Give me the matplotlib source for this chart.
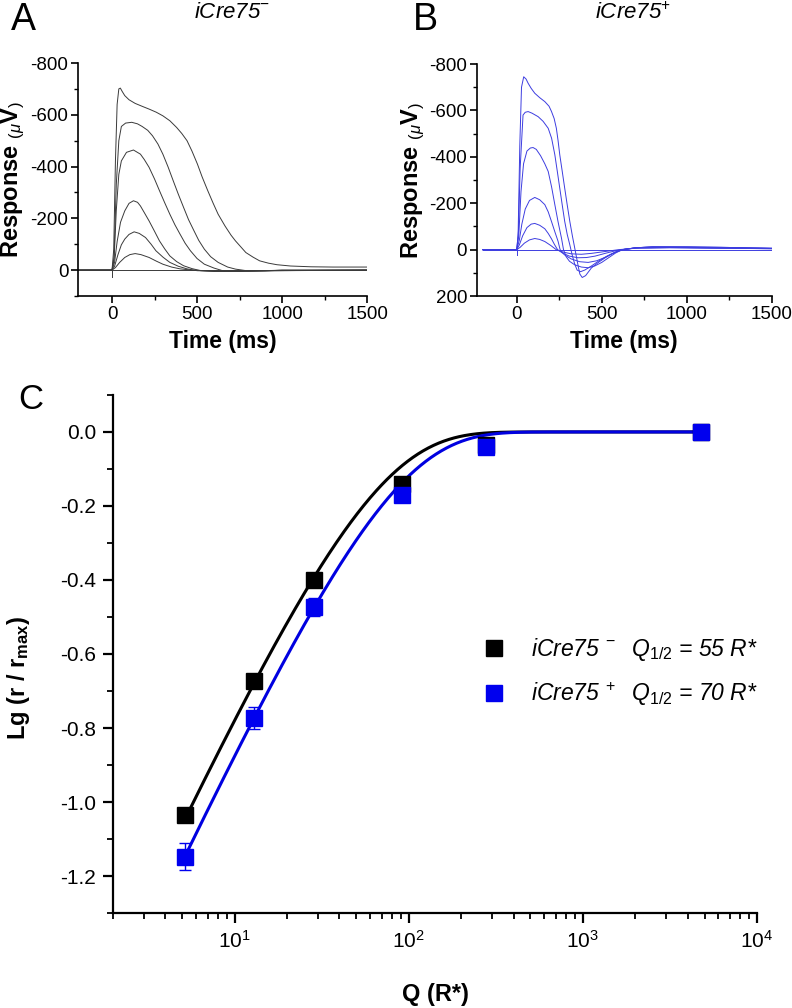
import numpy as np
import matplotlib
matplotlib.use('Agg')
from matplotlib import pyplot as plt
from matplotlib.lines import Line2D
from matplotlib.ticker import MultipleLocator, LogLocator, NullFormatter, FormatStrFormatter

plt.rcParams['font.family'] = ['Liberation Sans', 'DejaVu Sans']
plt.rcParams['mathtext.fontset'] = 'custom'
plt.rcParams['mathtext.rm'] = 'Liberation Sans'
plt.rcParams['mathtext.it'] = 'Liberation Sans:italic'
plt.rcParams['mathtext.bf'] = 'Liberation Sans:bold'
plt.rcParams['axes.unicode_minus'] = False

# ---- panel A : iCre75- traces (time ms, response uV) ----
a_t1 = [-200, 0, 10, 20, 30, 40, 49, 60, 75, 100, 136, 180, 218, 260, 299, 340, 380, 410, 441, 470,
        502, 530, 563, 595, 624, 665, 700, 726, 760, 787, 830, 868, 920, 970, 1050, 1171, 1300, 1500]
a_v1 = [0, 0, -80, -420, -640, -700, -703, -690, -674, -658, -644, -632, -622, -610, -596, -577, -551, -528, -500, -460,
        -410, -360, -307, -258, -216, -170, -135, -113, -88, -68, -50, -36, -27, -21, -16, -13, -12, -12]
a_t2 = [-200, 0, 12, 25, 40, 55, 80, 116, 150, 177, 210, 238, 270, 299, 330, 360, 390, 421, 450, 482,
        510, 543, 580, 624, 680, 726, 800, 900, 1000, 1500]
a_v2 = [0, 0, -50, -330, -500, -555, -568, -571, -565, -555, -540, -519, -487, -448, -398, -345, -293, -242, -195, -152,
        -115, -81, -52, -30, -12, -4, 3, 3, 0, 0]
a_t3 = [-200, 0, 12, 25, 40, 55, 85, 126, 167, 190, 218, 250, 279, 310, 340, 370, 400, 430, 461, 500,
        543, 600, 650, 750, 900, 1500]
a_v3 = [0, 0, -40, -230, -370, -422, -455, -464, -448, -427, -397, -352, -307, -260, -216, -175, -139, -104, -75, -45,
        -23, -8, 2, 5, 2, 0]
a_t4 = [-200, 0, 15, 30, 50, 75, 100, 126, 150, 167, 190, 218, 250, 279, 310, 340, 380, 421, 470, 522,
        600, 700, 850, 1000, 1500]
a_v4 = [0, 0, -30, -110, -185, -229, -258, -268, -262, -248, -222, -190, -150, -113, -82, -55, -33, -17, -6, 2,
        5, 5, 3, 0, 0]
a_t5 = [-200, 0, 15, 35, 55, 75, 100, 130, 160, 197, 230, 258, 300, 340, 390, 441, 500, 600, 750, 1500]
a_v5 = [0, 0, -15, -60, -98, -120, -138, -148, -142, -126, -100, -75, -50, -30, -15, -5, 2, 4, 3, 0]
a_t6 = [-200, 0, 20, 45, 75, 105, 136, 170, 218, 260, 299, 350, 400, 470, 600, 800, 1500]
a_v6 = [0, 0, -10, -30, -49, -60, -64, -60, -49, -35, -23, -12, -5, 0, 3, 2, 0]

# ---- panel B : iCre75+ traces ----
b_t1 = [-200, 0, 8, 18, 28, 41, 55, 67, 85, 106, 135, 165, 190, 204, 220, 233, 243, 253, 268, 282,
        297, 312, 327, 341, 352, 361, 371, 385, 405, 439, 480, 518, 560, 596, 630, 700, 800, 1000, 1200, 1500]
b_v1 = [0, 0, -60, -450, -700, -745, -735, -717, -695, -674, -655, -638, -618, -596, -565, -523, -470, -409, -335, -265,
        -192, -122, -60, -7, 35, 70, 105, 120, 112, 79, 55, 36, 18, 7, 0, -8, -12, -12, -10, -6]
b_t2 = [-200, 0, 10, 20, 37, 50, 67, 90, 126, 155, 185, 205, 224, 238, 253, 268, 282, 297, 312, 325,
        340, 355, 375, 400, 440, 480, 530, 580, 620, 700, 800, 1000, 1200, 1500]
b_v2 = [0, 0, -80, -350, -580, -592, -595, -588, -573, -553, -523, -480, -409, -340, -265, -190, -122, -65, -21, 20,
        60, 88, 95, 88, 70, 50, 28, 10, 0, -8, -12, -12, -10, -6]
b_t3 = [-200, 0, 12, 25, 40, 60, 80, 96, 115, 140, 165, 185, 205, 224, 243, 263, 275, 290, 310, 340,
        380, 420, 460, 500, 540, 580, 620, 700, 800, 1000, 1500]
b_v3 = [0, 0, -60, -250, -370, -425, -438, -440, -432, -405, -370, -337, -270, -194, -120, -50, 0, 30, 50, 65,
        75, 78, 70, 55, 35, 15, 0, -8, -12, -10, -5]
b_t4 = [-200, 0, 15, 30, 50, 75, 106, 135, 165, 185, 204, 225, 243, 255, 280, 320, 370, 420, 470, 520,
        570, 620, 700, 900, 1500]
b_v4 = [0, 0, -40, -110, -175, -212, -225, -215, -194, -163, -122, -75, -36, 0, 22, 40, 52, 55, 48, 33,
        15, 0, -8, -10, -5]
b_t5 = [-200, 0, 15, 35, 60, 85, 106, 135, 165, 185, 204, 222, 240, 270, 310, 360, 410, 460, 520, 580,
        620, 700, 900, 1500]
b_v5 = [0, 0, -20, -60, -95, -110, -113, -105, -90, -70, -47, -22, 0, 15, 28, 35, 34, 28, 16, 5,
        0, -7, -9, -4]
b_t6 = [-200, 0, 20, 45, 75, 106, 135, 165, 200, 232, 270, 320, 380, 440, 520, 600, 700, 900, 1500]
b_v6 = [0, 0, -10, -28, -42, -48, -44, -35, -18, 0, 10, 18, 20, 16, 8, 0, -6, -8, -4]

base_t = [-200, 1500]
base_v = [0, 0]
artifact_v = [0, 25]

# ---- panel C : intensity-response ----
q_flash = [5.2, 12.9, 28.4, 91, 277, 4780]
lg_minus = [-1.035, -0.672, -0.400, -0.142, -0.035, 0.0]
err_minus = [0.015, 0.018, 0.012, 0.01, 0.01, 0.0]
lg_plus = [-1.148, -0.772, -0.473, -0.170, -0.042, 0.0]
err_plus = [0.037, 0.030, 0.025, 0.012, 0.01, 0.0]
q_half = [55, 70]   # fit constants (1/k of saturating exponential)
labels_c = [r'iCre75$^{\ -}$  Q$_{\mathit{1/2}}$ = 55 R*',
            r'iCre75$^{\ +}$  Q$_{\mathit{1/2}}$ = 70 R*']

fig = plt.figure(figsize=(7.92, 10.08), dpi=100)

def trace_axes(rect, xlim, ylim, ylab_x):
    ax = fig.add_axes(rect)
    ax.set_xlim(*xlim)
    ax.set_ylim(*ylim)
    for s in ['top', 'right']:
        ax.spines[s].set_visible(False)
    for s in ['left', 'bottom']:
        ax.spines[s].set_linewidth(1.2)
    ax.xaxis.set_major_locator(MultipleLocator(500))
    ax.xaxis.set_minor_locator(MultipleLocator(250))
    ax.yaxis.set_major_locator(MultipleLocator(200))
    ax.yaxis.set_minor_locator(MultipleLocator(100))
    ax.tick_params(which='major', direction='out', length=5, width=1.2, labelsize=13.5, pad=2)
    ax.tick_params(which='minor', direction='out', length=3, width=1.0)
    ax.set_xlabel('Time (ms)', fontsize=16.5, fontweight='bold', labelpad=5)
    ax.set_ylabel(r'Response $_{(\mu}\mathbf{V}_{)}$', fontsize=17, fontweight='bold')
    ax.yaxis.set_label_coords(ylab_x, 0.5)
    return ax

axA = trace_axes([0.0985, 0.7063, 0.365, 0.2312], (-200, 1500), (100, -800), -0.176)
axA.set_xticks([0, 500, 1000, 1500])
for t, v in [(a_t1, a_v1), (a_t2, a_v2), (a_t3, a_v3), (a_t4, a_v4), (a_t5, a_v5), (a_t6, a_v6)]:
    axA.plot(t, v, color='#3a3a3a', lw=0.7)
axA.plot(base_t, base_v, color='#3a3a3a', lw=0.7)
axA.plot([0, 0], artifact_v, color='#3a3a3a', lw=0.7)

axB = trace_axes([0.602, 0.7063, 0.3725, 0.2302], (-235, 1500), (200, -800), -0.17)
axB.set_xticks([0, 500, 1000, 1500])
for t, v in [(b_t1, b_v1), (b_t2, b_v2), (b_t3, b_v3), (b_t4, b_v4), (b_t5, b_v5), (b_t6, b_v6)]:
    axB.plot(t, v, color='#3d3de0', lw=0.7)
axB.plot(base_t, base_v, color='#3d3de0', lw=0.7)
axB.plot([0, 0], artifact_v, color='#3d3de0', lw=0.7)

fig.text(232 / 792, 1 - 13 / 1008, r'iCre75$^{-}$', fontsize=16, style='italic', ha='center', va='center')
fig.text(633 / 792, 1 - 13 / 1008, r'iCre75$^{+}$', fontsize=16, style='italic', ha='center', va='center')
fig.text(11 / 792, 1 - 20 / 1008, 'A', fontsize=27, ha='left', va='center')
fig.text(413 / 792, 1 - 20 / 1008, 'B', fontsize=27, ha='left', va='center')
fig.text(18 / 792, 1 - 400 / 1008, 'C', fontsize=25, ha='left', va='center')

# panel C
axC = fig.add_axes([0.1427, 0.0942, 0.813, 0.514])
axC.set_xscale('log')
axC.set_xlim(2, 1e4)
axC.set_ylim(-1.3, 0.1)
for s in ['top', 'right']:
    axC.spines[s].set_visible(False)
for s in ['left', 'bottom']:
    axC.spines[s].set_linewidth(1.6)
axC.yaxis.set_major_locator(MultipleLocator(0.2))
axC.yaxis.set_minor_locator(MultipleLocator(0.1))
axC.yaxis.set_major_formatter(FormatStrFormatter('%.1f'))
axC.xaxis.set_major_locator(LogLocator(base=10, numticks=10))
axC.xaxis.set_minor_locator(LogLocator(base=10, subs=np.arange(2, 10), numticks=10))
axC.xaxis.set_minor_formatter(NullFormatter())
axC.tick_params(which='major', direction='out', length=7, width=1.6, labelsize=15, pad=5)
axC.tick_params(which='minor', direction='out', length=4, width=1.3)

q_fit = np.logspace(np.log10(q_flash[0]), np.log10(q_flash[-1]), 400)
axC.plot(q_fit, np.log10(1 - np.exp(-q_fit / q_half[0])), color='black', lw=2.2, zorder=2)
axC.plot(q_fit, np.log10(1 - np.exp(-q_fit / q_half[1])), color='#0000e0', lw=2.2, zorder=2)
axC.errorbar(q_flash, lg_minus, yerr=err_minus, fmt='s', color='black', ms=11, capsize=4,
             elinewidth=1.0, capthick=1.0, zorder=3)
axC.errorbar(q_flash, lg_plus, yerr=err_plus, fmt='s', color='#0000ee', ms=11, capsize=4,
             elinewidth=1.0, capthick=1.0, zorder=4)

handles = [Line2D([], [], marker='s', ls='none', color='black', ms=11),
           Line2D([], [], marker='s', ls='none', color='#0000ee', ms=11)]
axC.legend(handles, labels_c, loc='center left', bbox_to_anchor=(0.578, 0.466), frameon=False,
           handlelength=0.8, handletextpad=1.2, labelspacing=0.75, borderpad=0, borderaxespad=0,
           prop={'size': 16.5, 'style': 'italic'})

axC.set_xlabel('Q (R*)', fontsize=17, fontweight='bold')
axC.xaxis.set_label_coords(0.5, -0.135)
axC.set_ylabel(r'Lg (r / r$_{\mathbf{max}}$)', fontsize=17, fontweight='bold')
axC.yaxis.set_label_coords(-0.126, 0.454)

fig.savefig('out.png', dpi=100)
